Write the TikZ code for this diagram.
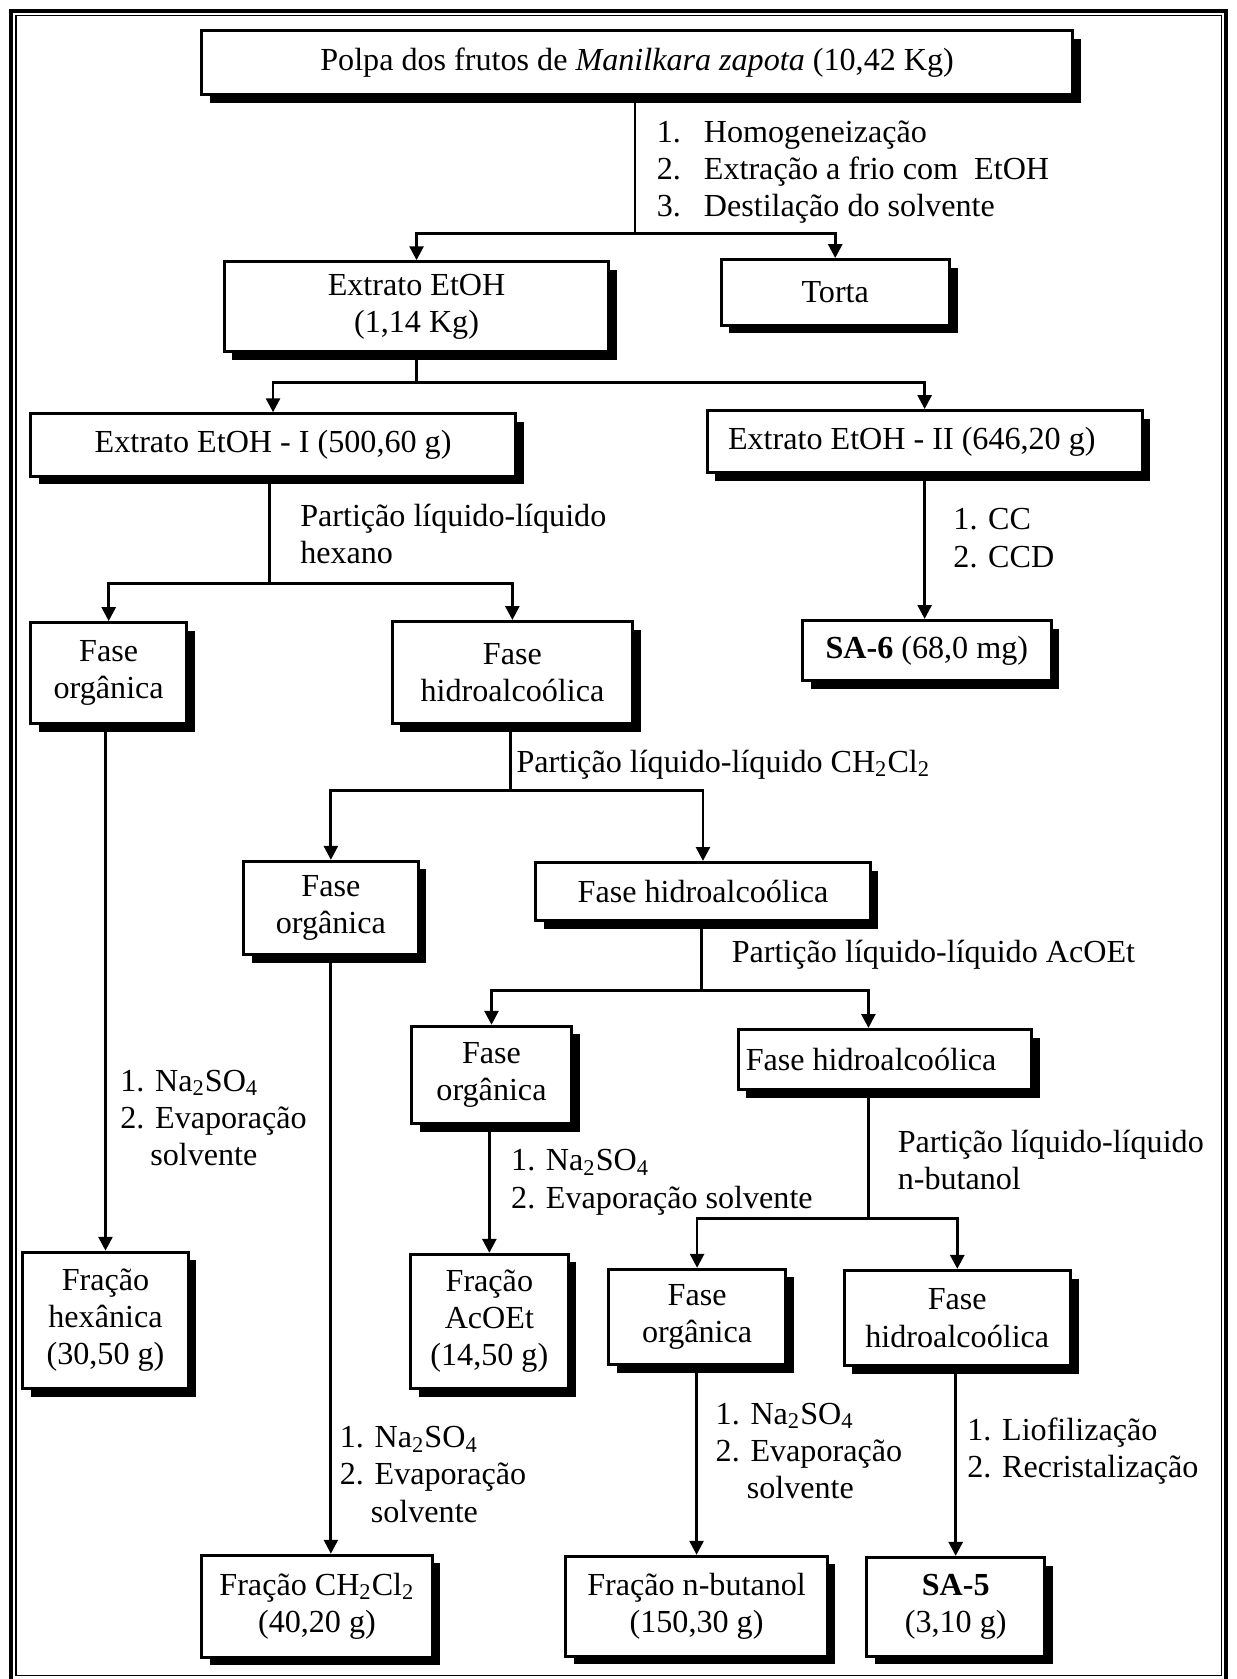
\documentclass[tikz,border=0pt]{standalone}
\usepackage{fontspec}
\setmainfont{Liberation Serif}
\usetikzlibrary{arrows.meta,shadows}

% a framed box with a solid offset shadow, given by its left, top, right and bottom edges
\newcommand\flowbox[7][]{%
  \node[box,#1,minimum width={(#5-#3)*0.5pt-1.4pt},minimum height={(#6-#4)*0.5pt-1.4pt}]
    (#2) at ({(#3+#5)/2},{(#4+#6)/2}) {#7};}
% numbered step with a fixed tab before its text
\newcommand\stepno[1]{\makebox[22pt][l]{#1}}
\newcommand\padR[1]{\rule{#1}{0pt}}

\tikzset{
  box/.style={draw, line width=1.4pt, fill=white, inner sep=0pt, align=center,
    drop shadow={shadow xshift=3.8pt, shadow yshift=-3.8pt, fill=black, opacity=1}},
  conn/.style={line width=1.3pt},
  arr/.style={conn, -{Triangle[length=6.5pt,width=6.5pt]}},
  lbl/.style={anchor=west, align=left, inner sep=0pt},
}

\begin{document}
\begin{tikzpicture}[x=0.5pt, y=-0.5pt,
  every node/.append style={font=\fontsize{15pt}{17.4pt}\selectfont}]
\useasboundingbox (0,0) rectangle (1155,1568);

% double frame
\draw[line width=1.9pt] (10.5,10) rectangle (1145,1571);
\draw[line width=0.6pt] (15,14.5) rectangle (1140.5,1565);

% boxes
\flowbox{top}{187}{27}{1003}{90}{Polpa dos frutos de \textit{Manilkara zapota} (10,42 Kg)}
\flowbox{ext}{208}{243}{570}{330}{Extrato EtOH\\(1,14 Kg)}
\flowbox{torta}{672}{241}{888}{305}{Torta}
\flowbox{extI}{27}{385}{483}{446}{Extrato EtOH - I (500,60 g)}
\flowbox{extII}{659}{382}{1068}{443}{Extrato EtOH - II (646,20 g)\padR{12pt}}
\flowbox{fo1}{27}{580}{176}{677}{Fase\\orgânica}
\flowbox{fh1}{365}{579}{592}{677}{Fase\\hidroalcoólica}
\flowbox{sa6}{748}{578}{983}{637}{\textbf{SA-6} (68,0 mg)}
\flowbox{fo2}{226}{803}{392}{893}{Fase\\orgânica}
\flowbox{fh2}{499}{804}{814}{861}{Fase hidroalcoólica}
\flowbox{fo3}{383}{957}{535}{1051}{Fase\\orgânica}
\flowbox{fh3}{688}{960}{965}{1019}{Fase hidroalcoólica\padR{13pt}}
\flowbox{fhex}{20}{1168}{177}{1298}{Fração\\hexânica\\(30,50 g)}
\flowbox{fac}{382}{1170}{532}{1298}{Fração\\AcOEt\\(14,50 g)}
\flowbox{fo4}{567}{1184}{735}{1276}{Fase\\orgânica}
\flowbox{fh4}{787}{1185}{1001}{1277}{Fase\\hidroalcoólica}
\flowbox{fch}{187}{1451}{405}{1549}{Fração CH\textsubscript{2}Cl\textsubscript{2}\\(40,20 g)}
\flowbox{fbu}{527}{1452}{774}{1548}{Fração n-butanol\\(150,30 g)}
\flowbox{sa5}{808}{1453}{977}{1548}{\textbf{SA-5}\\(3,10 g)}

% step labels
\node[lbl] (l1) at (613,160.5) {\stepno{1.}Homogeneização\\\stepno{2.}Extração a frio com\ \ EtOH\\\stepno{3.}Destilação do solvente};
\node[lbl] (l2) at (280,499) {Partição líquido-líquido\\hexano};
\node[lbl] (l3) at (890,502.5) {1. CC\\2. CCD};
\node[lbl] (l4) at (482,714) {Partição líquido-líquido CH\textsubscript{2}Cl\textsubscript{2}};
\node[lbl] (l5) at (112,1044) {1. Na\textsubscript{2}SO\textsubscript{4}\\2. Evaporação\\\hspace*{14pt}solvente};
\node[lbl] (l6) at (317,1377) {1. Na\textsubscript{2}SO\textsubscript{4}\\2. Evaporação\\\hspace*{14.5pt}solvente};
\node[lbl] (l7) at (477,1104) {1. Na\textsubscript{2}SO\textsubscript{4}\\2. Evaporação solvente};
\node[lbl] (l8) at (683,892) {Partição líquido-líquido AcOEt};
\node[lbl] (l9) at (838,1083) {Partição líquido-líquido\\n-butanol};
\node[lbl] (l10) at (668,1355) {1. Na\textsubscript{2}SO\textsubscript{4}\\2. Evaporação\\\hspace*{14.5pt}solvente};
\node[lbl] (l11) at (903,1355) {1. Liofilização\\2. Recristalização};

% junction points
\coordinate (j1) at (593,218);
\coordinate (j2) at (389,357);
\coordinate (j3) at (252,545);
\coordinate (j4) at (477,738);
\coordinate (j5) at (655,925);
\coordinate (j6) at (811,1138);

% connectors
\draw[conn] (top.south -| j1) -- (j1);
\draw[arr] (j1) -| (ext.north);
\draw[arr] (j1) -| (torta.north);

\draw[conn] (ext.south -| j2) -- (j2);
\draw[arr] (j2) -| (extI.north);
\draw[arr] (j2) -| (extII.north);

\draw[conn] (extI.south -| j3) -- (j3);
\draw[arr] (j3) -| (fo1.north);
\draw[arr] (j3) -| (fh1.north);

\draw[arr] (extII.south) -- (extII.south |- sa6.north);

\draw[arr] (fo1.south -| fhex.north) -- (fhex.north);

\draw[conn] (fh1.south -| j4) -- (j4);
\draw[arr] (j4) -| (fo2.north);
\draw[arr] (j4) -| (fh2.north);

\draw[arr] (fo2.south) -- (fo2.south |- fch.north);

\draw[conn] (fh2.south -| j5) -- (j5);
\draw[arr] (j5) -| (fo3.north);
\draw[arr] (j5) -| (fh3.north -| j6);

\draw[arr] (fo3.south -| fac.north) -- (fac.north);

\draw[conn] (fh3.south -| j6) -- (j6);
\draw[arr] (j6) -| (fo4.north);
\draw[arr] (j6) -| (fh4.north);

\draw[arr] (fo4.south -| fbu.north) -- (fbu.north);
\draw[arr] (fh4.south -| sa5.north) -- (sa5.north);
\end{tikzpicture}
\end{document}
